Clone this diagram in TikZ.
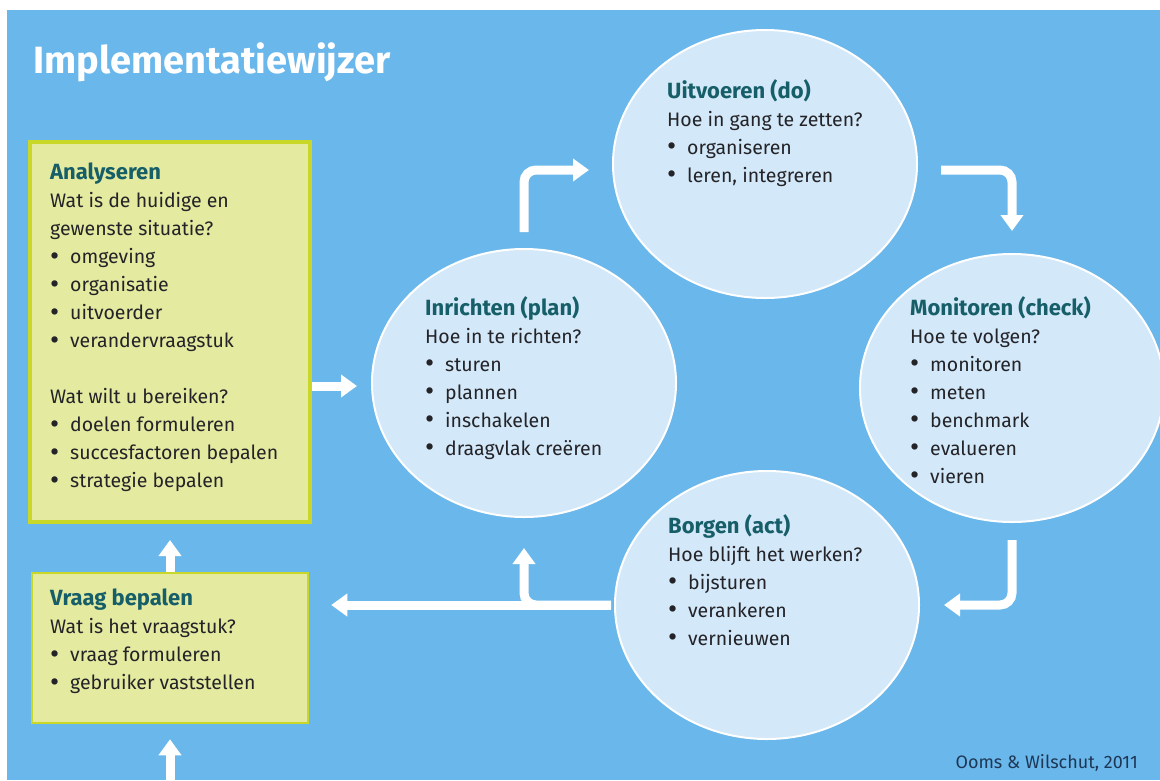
\documentclass[tikz,border=0pt]{standalone}
\usepackage{fontspec}
\setmainfont{Fira Sans}
\usetikzlibrary{arrows.meta,shapes.geometric}

\definecolor{sky}{RGB}{106,183,236}
\definecolor{bubble}{RGB}{211,232,248}
\definecolor{boxfill}{RGB}{228,234,160}
\definecolor{boxline}{RGB}{200,215,40}
\definecolor{kopkleur}{RGB}{22,94,104}
\definecolor{ink}{RGB}{35,35,40}
\definecolor{credit}{RGB}{30,55,85}

\newcommand{\kop}[1]{{\fontsize{22}{28}\selectfont\bfseries\color{kopkleur}#1}}
\newcommand{\itm}[1]{\makebox[20pt][l]{\raisebox{-1.6pt}{\fontsize{28}{28}\selectfont\textbullet}}#1}

\begin{document}
\begin{tikzpicture}[x=1pt,y=-1pt,
  phase/.style={ellipse, draw=white, line width=2pt, fill=bubble,
    minimum width=304pt, minimum height=268pt, inner sep=0pt},
  panel/.style={rectangle, draw=boxline, fill=boxfill, inner sep=0pt},
  txt/.style={anchor=north west, inner sep=0pt, align=left, text=ink,
    font=\fontsize{19.5}{28}\selectfont},
  flow/.style={draw=white, line width=9pt, rounded corners=12pt,
    -{Triangle[width=22pt,length=16pt]}}]

\useasboundingbox (0,0) rectangle (1160,780);
\fill [white] (0,0) rectangle (1160,780);
\fill [sky] (7,10) rectangle (1160,780);

% title
\node [anchor=base west, inner sep=0pt, text=white,
  font=\fontsize{38}{42}\selectfont\bfseries] (title) at (33,73) {Implementatiewijzer};

% boxes
\node [panel, line width=4pt, minimum width=280pt, minimum height=380pt] (ana) at (170,332) {};
\node [panel, line width=2.5pt, minimum width=276pt, minimum height=150pt] (vra) at (170,648) {};

% phases
\node [phase] (uit) at (765,164) {};
\node [phase] (inr) at (524,383) {};
\node [phase] (mon) at (1012,388) {};
\node [phase] (bor) at (767,605) {};

% arrows
\coordinate (inlet) at (170,790);
\coordinate (vin) at ([xshift=22pt]vra.east);
\draw [flow] (inlet) -- ([yshift=-15pt]vra.south);
\draw [flow] (vra.north) -- ([yshift=-16pt]ana.south);
\draw [flow] ([yshift=-54pt]ana.east) -- ++(45,0);
\draw [flow] ([yshift=16pt]inr.north) |- ([xshift=-23pt,yshift=-6pt]uit.west);
\draw [flow] ([xshift=23pt,yshift=-6pt]uit.east) -| ([yshift=22pt]mon.north);
\draw [flow] ([yshift=-17pt]mon.south) |- ([xshift=24pt]bor.east);
\draw [flow] ([xshift=-3pt]bor.west) -- (vin |- bor.west);
\draw [flow] ([xshift=-3pt]bor.west) -| ([yshift=-30pt]inr.south);

% texts
\node [txt] (anatxt) at (50,163) {\kop{Analyseren}\\
  Wat is de huidige en\\
  gewenste situatie?\\
  \itm{omgeving}\\
  \itm{organisatie}\\
  \itm{uitvoerder}\\
  \itm{verandervraagstuk}\\[28pt]
  Wat wilt u bereiken?\\
  \itm{doelen formuleren}\\
  \itm{succesfactoren bepalen}\\
  \itm{strategie bepalen}};

\node [txt] (vratxt) at (50,589) {\kop{Vraag bepalen}\\
  Wat is het vraagstuk?\\
  \itm{vraag formuleren}\\
  \itm{gebruiker vaststellen}};

\node [txt] (uittxt) at (667,79) {\kop{Uitvoeren (do)}\\
  Hoe in gang te zetten?\\
  \itm{organiseren}\\
  \itm{leren, integreren}};

\node [txt] (inrtxt) at (425,296) {\kop{Inrichten (plan)}\\
  Hoe in te richten?\\
  \itm{sturen}\\
  \itm{plannen}\\
  \itm{inschakelen}\\
  \itm{draagvlak creëren}};

\node [txt] (montxt) at (910,296) {\kop{Monitoren (check)}\\
  Hoe te volgen?\\
  \itm{monitoren}\\
  \itm{meten}\\
  \itm{benchmark}\\
  \itm{evalueren}\\
  \itm{vieren}};

\node [txt] (bortxt) at (668,514) {\kop{Borgen (act)}\\
  Hoe blijft het werken?\\
  \itm{bijsturen}\\
  \itm{verankeren}\\
  \itm{vernieuwen}};

\node [anchor=base east, inner sep=0pt, text=credit,
  font=\fontsize{18}{20}\selectfont] (bron) at (1138,768) {Ooms \& Wilschut, 2011};

\end{tikzpicture}
\end{document}
